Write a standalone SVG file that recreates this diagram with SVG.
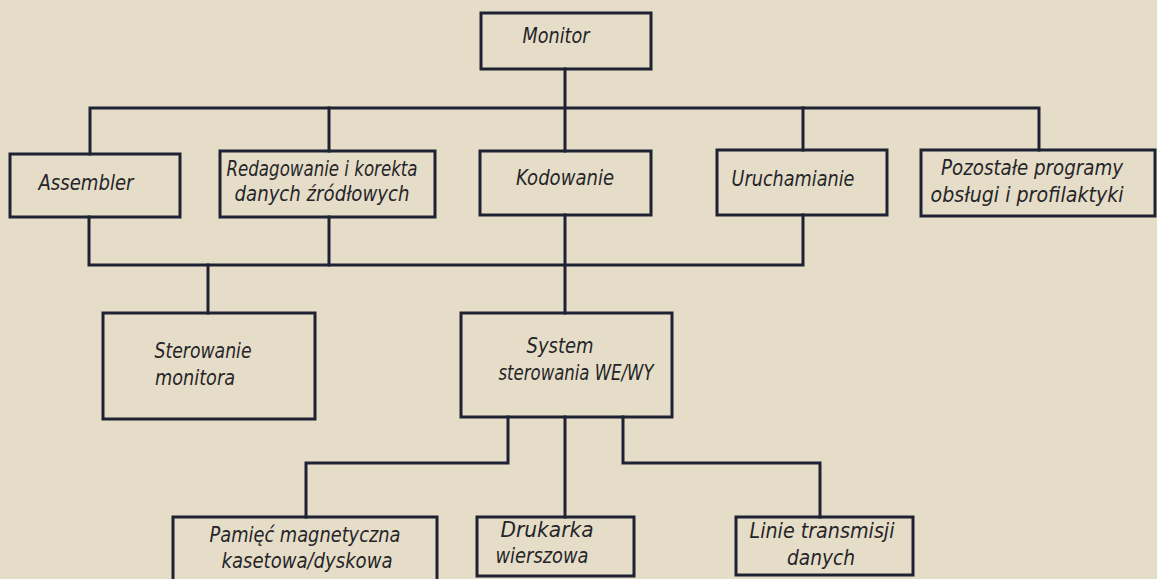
<svg xmlns="http://www.w3.org/2000/svg" width="1157" height="579" viewBox="0 0 1157 579">
  <style>
    .box { fill: none; stroke: #1f2233; stroke-width: 3; }
    .wire { fill: none; stroke: #1f2233; stroke-width: 3; stroke-linejoin: miter; stroke-linecap: square; }
    .lbl { font-family: "DejaVu Sans Condensed", "DejaVu Sans", sans-serif; font-stretch: condensed; font-style: italic; font-size: 21px; fill: #252528; text-anchor: middle; }
  </style>
  <rect width="1157" height="579" fill="#e5ddc8"/>

  <!-- connectors -->
  <g id="connectors">
    <path class="wire" d="M565 69 V151"/>
    <path class="wire" d="M90 154 V108 H1039 V150"/>
    <path class="wire" d="M329 108 V151"/>
    <path class="wire" d="M803 108 V150"/>
    <path class="wire" d="M89 217 V265 H803 V215"/>
    <path class="wire" d="M329 217 V265"/>
    <path class="wire" d="M565 215 V313"/>
    <path class="wire" d="M208 265 V313"/>
    <path class="wire" d="M508 417 V463 H306 V517"/>
    <path class="wire" d="M565 417 V517"/>
    <path class="wire" d="M623 417 V463 H820 V517"/>
  </g>

  <g id="monitor">
    <rect class="box" x="481" y="13" width="170" height="56"/>
    <text class="lbl" x="556" y="43" textLength="67" lengthAdjust="spacingAndGlyphs">Monitor</text>
  </g>

  <g id="assembler">
    <rect class="box" x="10" y="154" width="170" height="63"/>
    <text class="lbl" x="86" y="190" textLength="95" lengthAdjust="spacingAndGlyphs">Assembler</text>
  </g>

  <g id="redagowanie">
    <rect class="box" x="220" y="151" width="215" height="66"/>
    <text class="lbl" x="322" y="176" textLength="191" lengthAdjust="spacingAndGlyphs">Redagowanie i korekta</text>
    <text class="lbl" x="322" y="201" textLength="175" lengthAdjust="spacingAndGlyphs">danych źródłowych</text>
  </g>

  <g id="kodowanie">
    <rect class="box" x="480" y="151" width="171" height="64"/>
    <text class="lbl" x="565" y="185" textLength="98" lengthAdjust="spacingAndGlyphs">Kodowanie</text>
  </g>

  <g id="uruchamianie">
    <rect class="box" x="717" y="150" width="170" height="65"/>
    <text class="lbl" x="793" y="186" textLength="123" lengthAdjust="spacingAndGlyphs">Uruchamianie</text>
  </g>

  <g id="pozostale">
    <rect class="box" x="921" y="150" width="234" height="66"/>
    <text class="lbl" x="1032" y="175" textLength="182" lengthAdjust="spacingAndGlyphs">Pozostałe programy</text>
    <text class="lbl" x="1027" y="202" textLength="193" lengthAdjust="spacingAndGlyphs">obsługi i profilaktyki</text>
  </g>

  <g id="sterowanie-monitora">
    <rect class="box" x="103" y="313" width="212" height="106"/>
    <text class="lbl" x="203" y="358" textLength="97" lengthAdjust="spacingAndGlyphs">Sterowanie</text>
    <text class="lbl" x="195" y="385" textLength="80" lengthAdjust="spacingAndGlyphs">monitora</text>
  </g>

  <g id="system-we-wy">
    <rect class="box" x="461" y="313" width="211" height="104"/>
    <text class="lbl" x="560" y="353" textLength="67" lengthAdjust="spacingAndGlyphs">System</text>
    <text class="lbl" x="576" y="380" textLength="155" lengthAdjust="spacingAndGlyphs">sterowania WE/WY</text>
  </g>

  <g id="pamiec">
    <rect class="box" x="173" y="517" width="264" height="70"/>
    <text class="lbl" x="305" y="542" textLength="191" lengthAdjust="spacingAndGlyphs">Pamięć magnetyczna</text>
    <text class="lbl" x="307" y="568" textLength="171" lengthAdjust="spacingAndGlyphs">kasetowa/dyskowa</text>
  </g>

  <g id="drukarka">
    <rect class="box" x="477" y="517" width="157" height="59"/>
    <text class="lbl" x="547" y="537" textLength="93" lengthAdjust="spacingAndGlyphs">Drukarka</text>
    <text class="lbl" x="542" y="563" textLength="93" lengthAdjust="spacingAndGlyphs">wierszowa</text>
  </g>

  <g id="linie">
    <rect class="box" x="736" y="517" width="177" height="58"/>
    <text class="lbl" x="822" y="538" textLength="145" lengthAdjust="spacingAndGlyphs">Linie transmisji</text>
    <text class="lbl" x="821" y="565" textLength="68" lengthAdjust="spacingAndGlyphs">danych</text>
  </g>
</svg>
